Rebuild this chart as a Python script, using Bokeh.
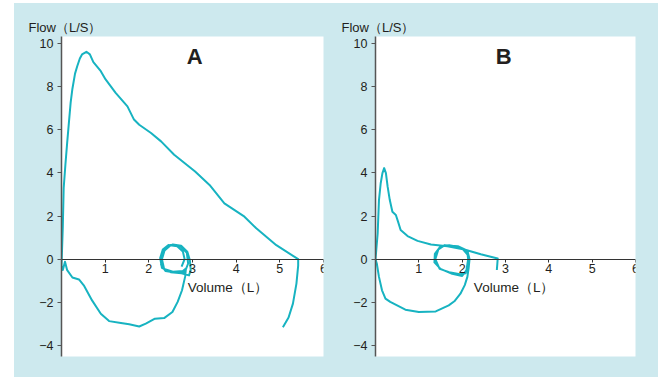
from bokeh.plotting import figure
from bokeh.models import Range1d, FixedTicker, Label, Spacer
from bokeh.layouts import row, column
from bokeh.embed import file_html
from bokeh.resources import INLINE

# ---------------- data ----------------
x_ticks = [1, 2, 3, 4, 5, 6]
y_ticks = [-4, -2, 0, 2, 4, 6, 8, 10]
y_tick_labels = {-4: "\u22124", -2: "\u22122", 0: "0", 2: "2", 4: "4", 6: "6", 8: "8", 10: "10"}

panel_titles = ["A", "B"]
y_title = "Flow\uff08L/S\uff09"
x_title = "Volume\uff08L\uff09"

# Panel A: tidal loops -> max inspiration -> forced expiration -> start of inspiration
a_volume = [2.75, 2.82, 2.78, 2.65, 2.45, 2.32, 2.26, 2.30, 2.50, 2.75, 2.92, 2.96, 2.94, 2.88,
            2.74, 2.55, 2.40, 2.30, 2.28, 2.38, 2.60, 2.82, 2.90, 2.87, 2.72, 2.50, 2.36, 2.30,
            2.35, 2.55, 2.78, 2.85,
            2.83, 2.76, 2.66, 2.54, 2.35, 2.14, 1.93, 1.78, 1.55, 1.36, 1.09, 0.90, 0.70, 0.51,
            0.40, 0.25, 0.13, 0.08, 0.03, 0.00,
            0.01, 0.03, 0.05, 0.09, 0.13, 0.17, 0.21, 0.25, 0.31, 0.36, 0.42, 0.47, 0.57, 0.65,
            0.73, 0.90, 1.01, 1.24, 1.51, 1.66, 1.78, 2.05, 2.28, 2.58, 3.06, 3.39, 3.73, 4.19,
            4.46, 4.92, 5.42,
            5.42, 5.38, 5.30, 5.20, 5.07]
a_flow = [-0.35, 0.00, 0.35, 0.60, 0.66, 0.45, 0.05, -0.40, -0.60, -0.65, -0.75, -0.50, -0.05, 0.35,
          0.62, 0.68, 0.55, 0.20, -0.25, -0.55, -0.62, -0.62, -0.20, 0.30, 0.60, 0.65, 0.40, 0.00,
          -0.45, -0.58, -0.55, -0.43,
          -0.82, -1.44, -1.98, -2.45, -2.73, -2.76, -2.99, -3.12, -3.02, -2.96, -2.87, -2.53, -1.91, -1.21,
          -0.94, -0.85, -0.51, -0.12, -0.50, -0.30,
          0.30, 1.50, 3.30, 4.40, 5.40, 6.34, 7.27, 7.90, 8.60, 8.94, 9.30, 9.49, 9.61, 9.49,
          9.13, 8.71, 8.33, 7.71, 7.08, 6.47, 6.23, 5.85, 5.46, 4.84, 4.06, 3.44, 2.59, 1.97,
          1.43, 0.65, 0.00,
          -0.30, -1.13, -2.06, -2.70, -3.15]

# Panel B
b_volume = [2.00, 2.15, 2.10, 2.00, 1.77, 1.50, 1.36, 1.37, 1.50, 1.70, 1.95, 2.12, 2.15, 2.08,
            1.95, 1.70, 1.48, 1.38, 1.45, 1.60, 1.90, 2.12, 2.17, 2.15,
            2.12, 2.06, 1.96, 1.82, 1.69, 1.39, 1.00, 0.69, 0.34, 0.23, 0.15, 0.08, 0.03, 0.00,
            0.05, 0.08, 0.12, 0.16, 0.20, 0.24, 0.28, 0.33, 0.39, 0.47, 0.52, 0.58, 0.74, 0.97,
            1.28, 1.66, 2.05, 2.43, 2.82,
            2.81, 2.80]
b_flow = [0.50, 0.15, -0.50, -0.78, -0.68, -0.45, -0.15, 0.25, 0.60, 0.65, 0.55, 0.30, -0.20, -0.65,
          -0.70, -0.60, -0.45, 0.00, 0.45, 0.65, 0.60, 0.40, 0.00, -0.40,
          -0.82, -1.20, -1.60, -1.95, -2.14, -2.42, -2.45, -2.34, -1.98, -1.83, -1.44, -0.82, -0.20, 0.00,
          1.19, 2.74, 3.52, 3.99, 4.22, 3.99, 3.36, 2.74, 2.20, 2.05, 1.74, 1.35, 1.07, 0.85,
          0.68, 0.60, 0.45, 0.23, 0.03,
          -0.25, -0.50]

# label anchor positions in data units
title_pos = [(3.05, 9.38), (2.96, 9.38)]
xlabel_pos = [(2.89, -1.29), (2.27, -1.29)]

# ---------------- style ----------------
BG = "#cde9ee"
LINE = "#17b3c1"
TXT = "#231f20"
FONT = "Liberation Sans"


def make_panel(vol, flow, title, tpos, xpos, width, right_border, title_offset):
    p = figure(width=width, height=374, output_backend="svg", toolbar_location=None,
               x_range=Range1d(0, 6), y_range=Range1d(-4.51, 10.32),
               min_border_left=47, min_border_right=right_border,
               min_border_top=33, min_border_bottom=21,
               border_fill_color=BG, background_fill_color="white",
               outline_line_color=None)
    p.grid.visible = False

    p.title.text = y_title
    p.title.align = "left"
    p.title.offset = title_offset
    p.title.standoff = 3
    p.title.text_font = FONT
    p.title.text_font_size = "13px"
    p.title.text_font_style = "normal"
    p.title.text_color = TXT

    # x axis through y = 0
    xa = p.xaxis[0]
    xa.fixed_location = 0
    xa.ticker = FixedTicker(ticks=x_ticks)
    xa.minor_tick_line_color = None
    xa.major_tick_in = 0
    xa.major_tick_out = 3
    xa.major_label_standoff = 2
    xa.axis_line_color = "#333333"
    xa.major_tick_line_color = "#333333"
    xa.major_label_text_font = FONT
    xa.major_label_text_font_size = "12.5px"
    xa.major_label_text_color = TXT

    ya = p.yaxis[0]
    ya.ticker = FixedTicker(ticks=y_ticks)
    ya.major_label_overrides = y_tick_labels
    ya.minor_tick_line_color = None
    ya.major_tick_in = 0
    ya.major_tick_out = 4
    ya.major_label_standoff = 4
    ya.axis_line_color = "#555555"
    ya.axis_line_width = 1.5
    ya.major_tick_line_color = "#555555"
    ya.major_label_text_font = FONT
    ya.major_label_text_font_size = "12.5px"
    ya.major_label_text_color = TXT

    p.line(vol, flow, line_color=LINE, line_width=2, line_join="round")

    p.add_layout(Label(x=tpos[0], y=tpos[1], text=title, text_align="center",
                       text_baseline="alphabetic", text_font=FONT, text_font_size="22px",
                       text_font_style="bold", text_color=TXT))
    p.add_layout(Label(x=xpos[0], y=xpos[1], text=x_title, text_align="left",
                       text_baseline="alphabetic", text_font=FONT, text_font_size="13.5px",
                       text_color=TXT))
    return p


pa = make_panel(a_volume, a_flow, panel_titles[0], title_pos[0], xlabel_pos[0], 314, 5, -33)
pb = make_panel(b_volume, b_flow, panel_titles[1], title_pos[1], xlabel_pos[1], 330, 23, -34)

panels = row(pa, pb, styles={"background-color": BG})
layout = column(Spacer(width=658, height=3), row(Spacer(width=14, height=374), panels))

open("out.html", "w").write(file_html(layout, INLINE))
